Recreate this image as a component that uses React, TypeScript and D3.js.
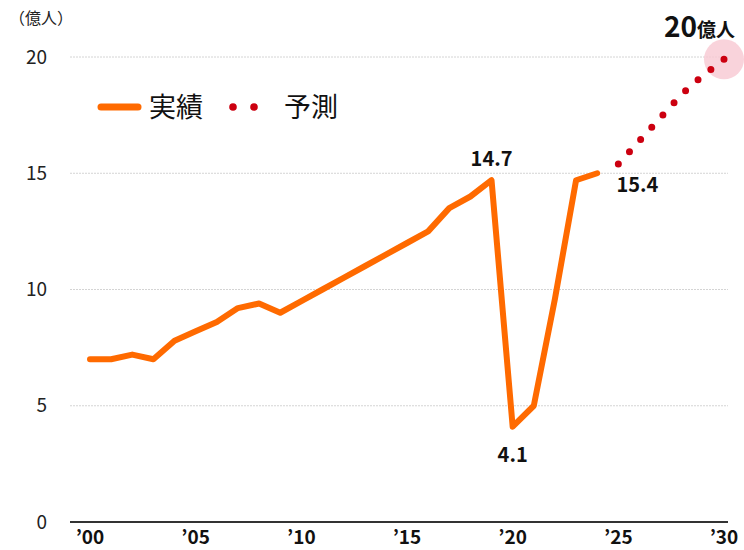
import React from 'react';
import * as d3 from 'd3';

const width = 744;
const height = 550;

// 実績 (actual) values, in 億人
const actualYears = [2000, 2001, 2002, 2003, 2004, 2005, 2006, 2007, 2008, 2009, 2010, 2011, 2012, 2013, 2014, 2015, 2016, 2017, 2018, 2019, 2020, 2021, 2022, 2023, 2024];
const actualValues = [7.0, 7.0, 7.2, 7.0, 7.8, 8.2, 8.6, 9.2, 9.4, 9.0, 9.5, 10.0, 10.5, 11.0, 11.5, 12.0, 12.5, 13.5, 14.0, 14.7, 4.1, 5.0, 9.6, 14.7, 15.0];

// 予測 (forecast)
const forecastYears = [2025, 2026, 2027, 2028, 2029, 2030];
const forecastValues = [15.4, 16.4, 17.4, 18.4, 19.2, 19.9];

const yTicks = [0, 5, 10, 15, 20];
const xTicks = [2000, 2005, 2010, 2015, 2020, 2025, 2030];
const xTickLabels = ['’00', '’05', '’10', '’15', '’20', '’25', '’30'];

const font = '"Noto Sans CJK JP", "Noto Sans", sans-serif';
const orange = '#ff6a00';
const red = '#cc0010';

const x = d3.scaleLinear().domain([2000, 2030]).range([90, 724]);
const y = d3.scaleLinear().domain([0, 20]).range([522, 57]);

const line = d3
  .line<[number, number]>()
  .x(d => x(d[0]))
  .y(d => y(d[1]));

const actual = actualYears.map((yr, i) => [yr, actualValues[i]] as [number, number]);
const forecast = forecastYears.map((yr, i) => [yr, forecastValues[i]] as [number, number]);

// length of the forecast polyline, so the dots land on both ends
const forecastLength = d3.sum(forecast.slice(1), (d, i) =>
  Math.hypot(x(d[0]) - x(forecast[i][0]), y(d[1]) - y(forecast[i][1]))
);
const dotGap = forecastLength / 9;

const App = () => {
  const last = forecast[forecast.length - 1];
  return (
    <svg
      width={width}
      height={height}
      style={{ position: 'absolute', left: 0, top: 0, background: '#fff' }}
      fontFamily={font}
    >
      {/* grid */}
      {yTicks.filter(t => t > 0).map(t => (
        <line key={t} x1={70} x2={728} y1={y(t)} y2={y(t)} stroke="#d4d4d4" strokeWidth={1} strokeDasharray="2 1" />
      ))}
      <line x1={70} x2={728} y1={y(0)} y2={y(0)} stroke="#333" strokeWidth={2} />

      {yTicks.map(t => (
        <text key={t} x={47} y={y(t)} dy="0.35em" textAnchor="end" fontSize={19} fill="#222">
          {t}
        </text>
      ))}
      <text x={9} y={24} fontSize={16} fill="#222">（億人）</text>

      {xTicks.map((t, i) => (
        <text key={t} x={x(t)} y={544} textAnchor="middle" fontSize={19} fontWeight="bold" fill="#111">
          {xTickLabels[i]}
        </text>
      ))}

      {/* highlight */}
      <circle cx={x(last[0])} cy={y(last[1])} r={20} fill="#f7c8d2" opacity={0.8} />

      <path d={line(actual) || ''} fill="none" stroke={orange} strokeWidth={6} strokeLinejoin="round" strokeLinecap="round" />
      <path
        d={line(forecast) || ''}
        fill="none"
        stroke={red}
        strokeWidth={7}
        strokeLinecap="round"
        strokeDasharray={`0 ${dotGap}`}
      />

      {/* labels */}
      <text x={x(2019)} y={y(14.7) - 14} textAnchor="middle" fontSize={20} fontWeight="bold" fill="#111">14.7</text>
      <text x={x(2020)} y={y(4.1) + 35} textAnchor="middle" fontSize={20} fontWeight="bold" fill="#111">4.1</text>
      <text x={x(2025) + 19} y={y(15.4) + 28} textAnchor="middle" fontSize={20} fontWeight="bold" fill="#111">15.4</text>
      <text x={664} y={37} fontWeight="bold" fill="#111">
        <tspan fontSize={28}>20</tspan>
        <tspan fontSize={19}>億人</tspan>
      </text>

      {/* legend */}
      <line x1={101} x2={138} y1={107} y2={107} stroke={orange} strokeWidth={7} strokeLinecap="round" />
      <text x={149} y={117} fontSize={27} fill="#111">実績</text>
      <circle cx={233} cy={107} r={3.8} fill={red} />
      <circle cx={254} cy={107} r={3.8} fill={red} />
      <text x={284} y={117} fontSize={27} fill="#111">予測</text>
    </svg>
  );
};

export default App;
